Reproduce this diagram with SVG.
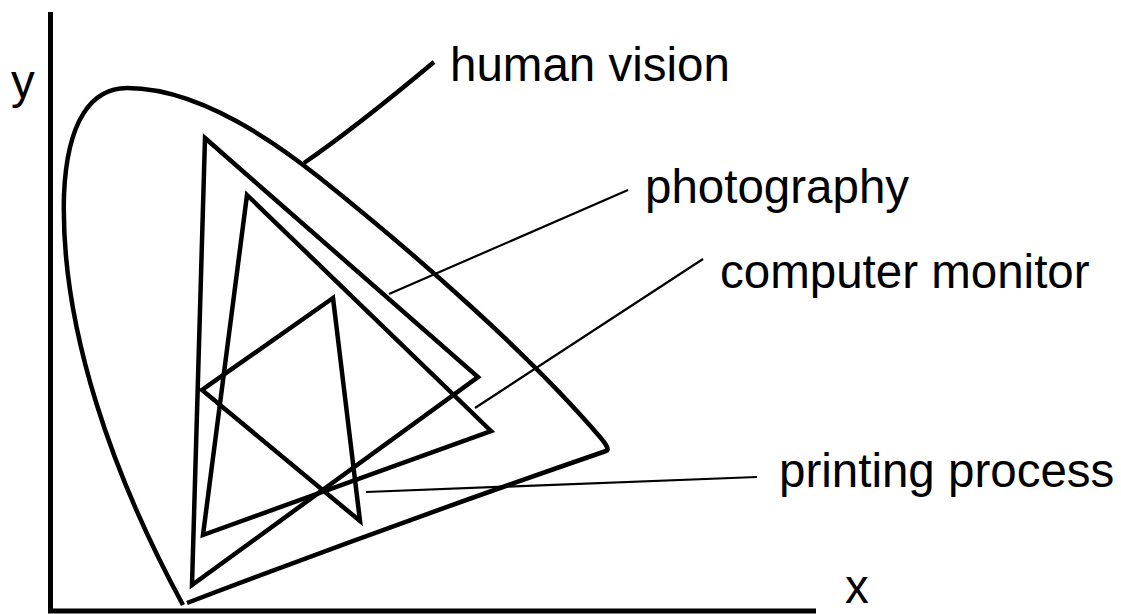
<svg xmlns="http://www.w3.org/2000/svg" width="1121" height="614" viewBox="0 0 1121 614">
<style>
.thick{fill:none;stroke:#000;stroke-width:4.5;stroke-linejoin:miter;stroke-linecap:butt}
.thin{fill:none;stroke:#000;stroke-width:2.2}
.lbl{font-family:"Liberation Sans",Arial,sans-serif;font-size:47.5px;fill:#000}
</style>
<rect width="1121" height="614" fill="#fff"/>
<g id="axes">
<line class="thick" x1="50.5" y1="12" x2="50.5" y2="613" style="stroke-width:5"/>
<line class="thick" x1="48" y1="611" x2="816" y2="611" style="stroke-width:5"/>
<text class="lbl" x="11" y="98">y</text>
<text class="lbl" x="845" y="603">x</text>
</g>
<g id="human-vision">
<path class="thick" d="M183,605 C115,480 60,330 64,195 C67,120 92,88 127,88 C185,88 250,122 320,178 C420,258 530,355 600,437 Q611,450 606,451 Q400,522 187,603"/>
</g>
<g id="photography">
<polygon class="thick" points="205,138 478,377 192,585"/>
</g>
<g id="computer-monitor">
<polygon class="thick" points="247,195 491,431 203,535"/>
</g>
<g id="printing-process">
<polygon class="thick" points="333,298 202,390 360,521"/>
</g>
<g id="connectors">
<path class="thick" d="M304,163 Q355,128 434,62"/>
<line class="thin" x1="389" y1="294" x2="628" y2="190"/>
<line class="thin" x1="475" y1="408" x2="703" y2="259"/>
<line class="thin" x1="366" y1="492" x2="757" y2="477"/>
</g>
<g id="labels">
<text class="lbl" x="450" y="81">human vision</text>
<text class="lbl" x="645" y="203">photography</text>
<text class="lbl" x="720" y="288">computer monitor</text>
<text class="lbl" x="779" y="487">printing process</text>
</g>
</svg>
